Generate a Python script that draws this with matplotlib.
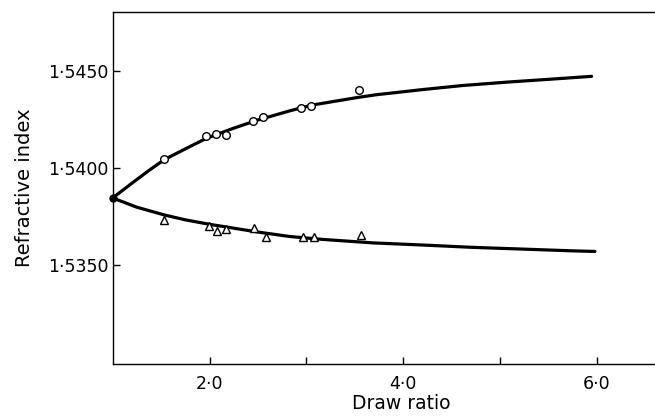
#!/usr/bin/env python3

import matplotlib
matplotlib.use("Agg")
import matplotlib.pyplot as plt
from matplotlib.ticker import FixedLocator, FuncFormatter

# Measured points (open circles, upper branch)
circle_x = [1.535, 1.966, 2.062, 2.173, 2.448, 2.551, 2.941, 3.044, 3.543]
circle_y = [1.54048, 1.54167, 1.54178, 1.54172, 1.54247, 1.54266, 1.54312, 1.54320, 1.54402]

# Measured points (open triangles, lower branch)
tri_x = [1.535, 1.990, 2.076, 2.173, 2.458, 2.582, 2.965, 3.075, 3.561]
tri_y = [1.53733, 1.53702, 1.53677, 1.53687, 1.53691, 1.53647, 1.53644, 1.53646, 1.53655]

# Isotropic starting point
start_x = [1.0]
start_y = [1.53848]

# Drawn curves
upper_x = [1.0, 1.21, 1.37, 1.535, 1.759, 1.966, 2.24, 2.5, 2.829, 3.05,
           3.516, 3.72, 4.205, 4.62, 5.067, 5.514, 5.945]
upper_y = [1.53848, 1.53928, 1.53988, 1.54046, 1.54103, 1.54155, 1.54206,
           1.54250, 1.54297, 1.54326, 1.54365, 1.5438, 1.54407, 1.54428,
           1.54445, 1.54460, 1.54475]
lower_x = [1.0, 1.25, 1.535, 1.75, 2.0, 2.5, 2.829, 3.17, 3.69, 4.205,
           4.72, 5.24, 5.755, 5.98]
lower_y = [1.53848, 1.5380, 1.5376, 1.53735, 1.53712, 1.53672, 1.53649,
           1.53634, 1.53616, 1.53605, 1.53593, 1.53584, 1.53575, 1.53572]

x_major = [2.0, 4.0, 6.0]
x_minor = [3.0, 5.0]
y_major = [1.535, 1.540, 1.545]


def dot_fmt(fmt):
    # Print with a raised decimal point like the original
    return FuncFormatter(lambda v, pos: (fmt % v).replace(".", "\u00b7"))


fig = plt.figure(figsize=(6.55, 4.19), dpi=100)
ax = fig.add_axes([0.172, 0.131, 0.828, 0.840])

# Curves
ax.plot(upper_x, upper_y, color="black", lw=2.3, solid_capstyle="round",
        solid_joinstyle="round")
ax.plot(lower_x, lower_y, color="black", lw=2.3, solid_capstyle="round",
        solid_joinstyle="round")

# Data points
ax.plot(circle_x, circle_y, "o", ms=5.5, mfc="white", mec="black", mew=1.0)
ax.plot(tri_x, tri_y, "^", ms=5.8, mfc="white", mec="black", mew=1.0)
ax.plot(start_x, start_y, "o", ms=5.0, color="black", clip_on=False, zorder=5)

ax.set_xlim(1.0, 6.6)
ax.set_ylim(1.52991, 1.54806)

ax.xaxis.set_major_locator(FixedLocator(x_major))
ax.xaxis.set_minor_locator(FixedLocator(x_minor))
ax.yaxis.set_major_locator(FixedLocator(y_major))
ax.xaxis.set_major_formatter(dot_fmt("%.1f"))
ax.yaxis.set_major_formatter(dot_fmt("%.4f"))

ax.tick_params(axis="both", which="both", direction="in", width=1.0,
               labelsize=12.5, colors="black")
ax.tick_params(axis="x", which="major", length=5, pad=8)
ax.tick_params(axis="x", which="minor", length=5)
ax.tick_params(axis="y", which="major", length=5, pad=3)

ax.spines["right"].set_visible(False)
for s in ("left", "bottom", "top"):
    ax.spines[s].set_linewidth(1.0)

ax.set_xlabel("Draw ratio", fontsize=13.5, labelpad=4)
ax.xaxis.set_label_coords(0.533, -0.085)
ax.set_ylabel("Refractive index", fontsize=14, labelpad=10)

fig.savefig("out.png", dpi=100)
